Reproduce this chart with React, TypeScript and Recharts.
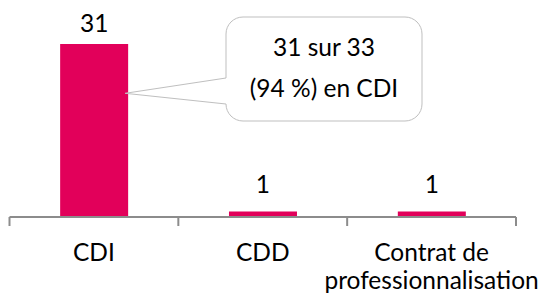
import { BarChart, Bar, XAxis, YAxis, LabelList } from "recharts";

// Contract types of the 33 graduates in employment.
const categories = ["CDI", "CDD", "Contrat de professionnalisation"];
const counts = [31, 1, 1];
const total = 33;

const data = categories.map((name, i) => ({ name, value: counts[i] }));

const BAR = "#e2005a";
const AXIS = "#8c8c8c";
const FONT = "Lato, 'Open Sans', sans-serif";
const FS = 24.5;

// Category label under the axis, wrapped on two lines when too long.
// Tick marks sit on the category boundaries, Excel style.
function CategoryTick(props: any) {
  const { x, y, payload, index, visibleTicksCount } = props;
  const half = payload.offset ?? 84.5;
  const words: string[] = String(payload.value).split(" ");
  const lines = words.length > 2 ? [words.slice(0, 2).join(" "), words.slice(2).join(" ")] : [words.join(" ")];
  return (
    <g>
      <line x1={x - half} x2={x - half} y1={y} y2={y + 9} stroke={AXIS} strokeWidth={2} />
      {index === visibleTicksCount - 1 && (
        <line x1={x + half} x2={x + half} y1={y} y2={y + 9} stroke={AXIS} strokeWidth={2} />
      )}
      <text x={x} y={y + 44} textAnchor="middle" fontFamily={FONT} fontSize={FS} fill="#000">
        {lines.map((l, i) => (
          <tspan key={i} x={x} dy={i === 0 ? 0 : 28}>
            {l}
          </tspan>
        ))}
      </text>
    </g>
  );
}

// Value above each bar; Excel keeps the tall one inside the chart area.
function ValueLabel(props: any) {
  const { x, y, width, value } = props;
  return (
    <text x={x + width / 2} y={Math.max(y - 18, 32)} textAnchor="middle" fontFamily={FONT} fontSize={FS} fill="#000">
      {value}
    </text>
  );
}

// Speech-bubble callout pointing at the CDI bar.
function Callout(props: any) {
  const { x, y, width, height, index } = props;
  if (index !== 0) return null;
  const tipX = x + width - 3;
  const tipY = y + height * 0.285;
  const x0 = 226, y0 = 17, x1 = 422, y1 = 121, r = 17;
  const d = [
    `M ${x0 + r} ${y0}`,
    `H ${x1 - r}`,
    `A ${r} ${r} 0 0 1 ${x1} ${y0 + r}`,
    `V ${y1 - r}`,
    `A ${r} ${r} 0 0 1 ${x1 - r} ${y1}`,
    `H ${x0 + r}`,
    `A ${r} ${r} 0 0 1 ${x0} ${y1 - r}`,
    `L ${tipX} ${tipY}`,
    `L ${x0} 78`,
    `V ${y0 + r}`,
    `A ${r} ${r} 0 0 1 ${x0 + r} ${y0}`,
    "Z",
  ].join(" ");
  const cx = (x0 + x1) / 2;
  const pct = Math.round((counts[0] / total) * 100);
  return (
    <g>
      <path d={d} fill="#fff" stroke="#bfbfbf" strokeWidth={1} />
      <text x={cx} y={56} textAnchor="middle" fontFamily={FONT} fontSize={FS} fill="#000">
        {`${counts[0]} sur ${total}`}
      </text>
      <text x={cx} y={97} textAnchor="middle" fontFamily={FONT} fontSize={FS} fill="#000">
        {`(${pct} %) en CDI`}
      </text>
    </g>
  );
}

export default function App() {
  return (
    <div style={{ position: "absolute", left: 0, top: 0, background: "#fff" }}>
      <BarChart
        width={544}
        height={296}
        data={data}
        margin={{ top: 44, right: 28, bottom: 0, left: 9.5 }}
        barCategoryGap="30%"
      >
        <YAxis hide domain={[0, 31]} />
        <XAxis
          dataKey="name"
          height={79}
          axisLine={{ stroke: AXIS, strokeWidth: 2 }}
          tickLine={false}
          tickSize={0}
          tickMargin={0}
          interval={0}
          tick={<CategoryTick />}
        />
        <Bar dataKey="value" fill={BAR} isAnimationActive={false}>
          <LabelList dataKey="value" content={<ValueLabel />} />
          <LabelList dataKey="value" content={<Callout />} />
        </Bar>
      </BarChart>
    </div>
  );
}
